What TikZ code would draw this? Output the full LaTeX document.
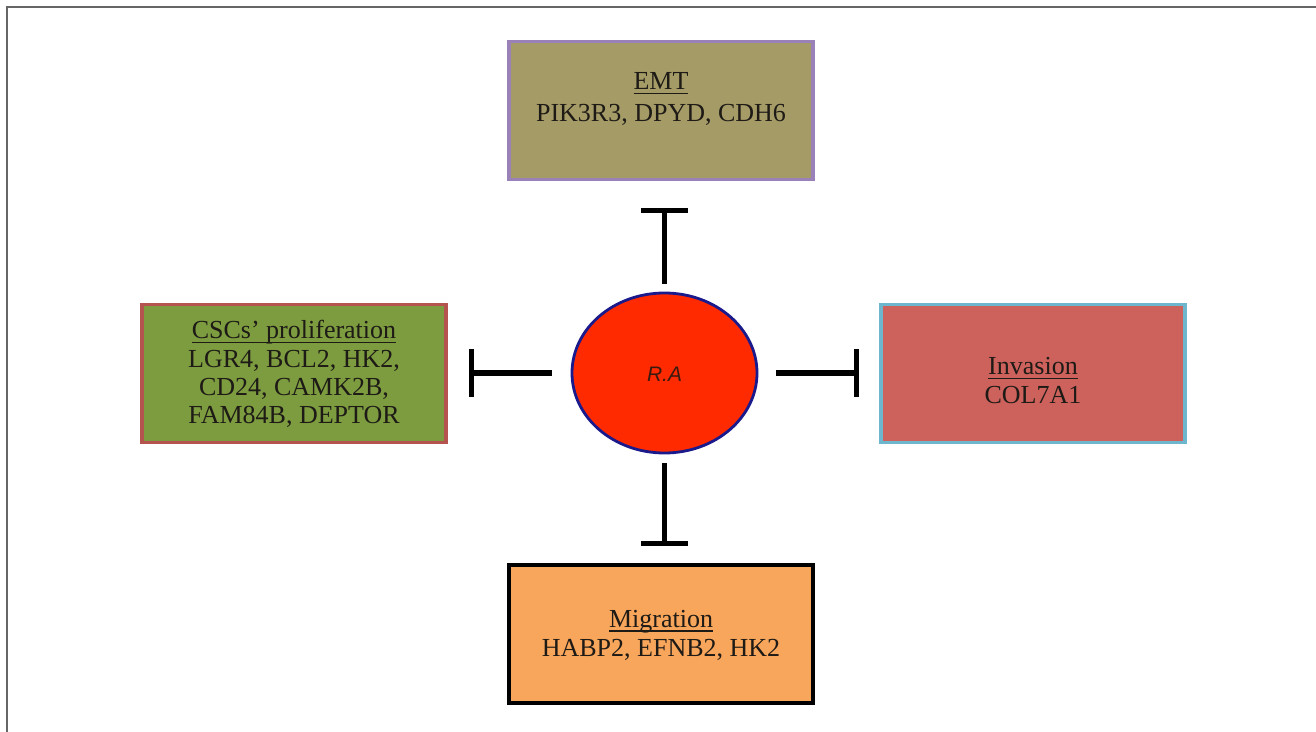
\documentclass[tikz,border=0pt]{standalone}
\usepackage{fontspec}
\setmainfont{Liberation Serif}
\newfontfamily\rasans{Liberation Sans}
\usetikzlibrary{arrows.meta,shapes.geometric}
\definecolor{emtfill}{HTML}{A59B67}
\definecolor{emtdraw}{HTML}{9A82B8}
\definecolor{cscfill}{HTML}{7C9C3F}
\definecolor{cscdraw}{HTML}{B5544E}
\definecolor{invfill}{HTML}{CD625D}
\definecolor{invdraw}{HTML}{6DB6CE}
\definecolor{migfill}{HTML}{F8A65B}
\definecolor{rafill}{HTML}{FF2A00}
\definecolor{radraw}{HTML}{1A1A8C}
\definecolor{txt}{HTML}{1E1A16}
\definecolor{ratxt}{HTML}{3A1A10}
\definecolor{framec}{HTML}{666666}
\newcommand\myundl[1]{\leavevmode\setbox0\hbox{#1}\rlap{\rule[-2.2pt]{\wd0}{0.65pt}}\box0}
\tikzset{
  procbox/.style={rectangle, line width=1.8pt, minimum width=152pt, minimum height=69pt, inner sep=0pt},
  proctext/.style={align=center, text=txt, font=\fontsize{13}{14.5}\selectfont, inner sep=0pt},
  inhib/.style={line width=2.6pt, -{Bar[width=23.5pt,line width=2.6pt]}},
}
\begin{document}
\begin{tikzpicture}[x=0.5pt,y=-0.5pt]
\useasboundingbox (0,0) rectangle (1316,732);
\fill[white] (0,0) rectangle (1316,732);
\coordinate (fTL) at (7,7);
\coordinate (fTR) at (1316,7);
\coordinate (fBL) at (7,732);
\draw[framec, line width=1.1pt] (fBL) -- (fTL) -- (fTR);

\node[procbox, draw=emtdraw, fill=emtfill] (emt) at (661,110.5) {};
\node[procbox, draw=cscdraw, fill=cscfill] (csc) at (294,373.5) {};
\node[procbox, draw=invdraw, fill=invfill] (inv) at (1033,373.5) {};
\node[procbox, draw=black, fill=migfill] (mig) at (661,634) {};

\node[proctext] (emtT) at (661,99) {\myundl{EMT}\\[1.5pt]PIK3R3, DPYD, CDH6};
\node[proctext, font=\fontsize{13}{14}\selectfont] (cscT) at (294,374) {\myundl{CSCs' proliferation}\\[0.5pt]LGR4, BCL2, HK2,\\CD24, CAMK2B,\\FAM84B, DEPTOR};
\node[proctext] (invT) at (1033,381) {\myundl{Invasion}\\COL7A1};
\node[proctext] (migT) at (661,635) {\myundl{Migration}\\HABP2, EFNB2, HK2};

\node[ellipse, draw=radraw, fill=rafill, line width=1.4pt, minimum width=92.5pt, minimum height=80pt, inner sep=0pt] (ra) at (664.5,373) {};
\node[text=ratxt, font=\rasans\itshape\fontsize{10.5}{11}\selectfont, inner sep=0pt] (raT) at (664.5,374) {R.A};

\draw[inhib, shorten <=4pt, shorten >=13.5pt] (ra.north) -- (ra.north |- emt.south);
\draw[inhib, shorten <=9.5pt, shorten >=10.5pt] (ra.west) -- (csc.east |- ra.west);
\draw[inhib, shorten <=9pt, shorten >=10pt] (ra.east) -- (inv.west |- ra.east);
\draw[inhib, shorten <=4.5pt, shorten >=8.5pt] (ra.south) -- (ra.south |- mig.north);
\end{tikzpicture}
\end{document}
